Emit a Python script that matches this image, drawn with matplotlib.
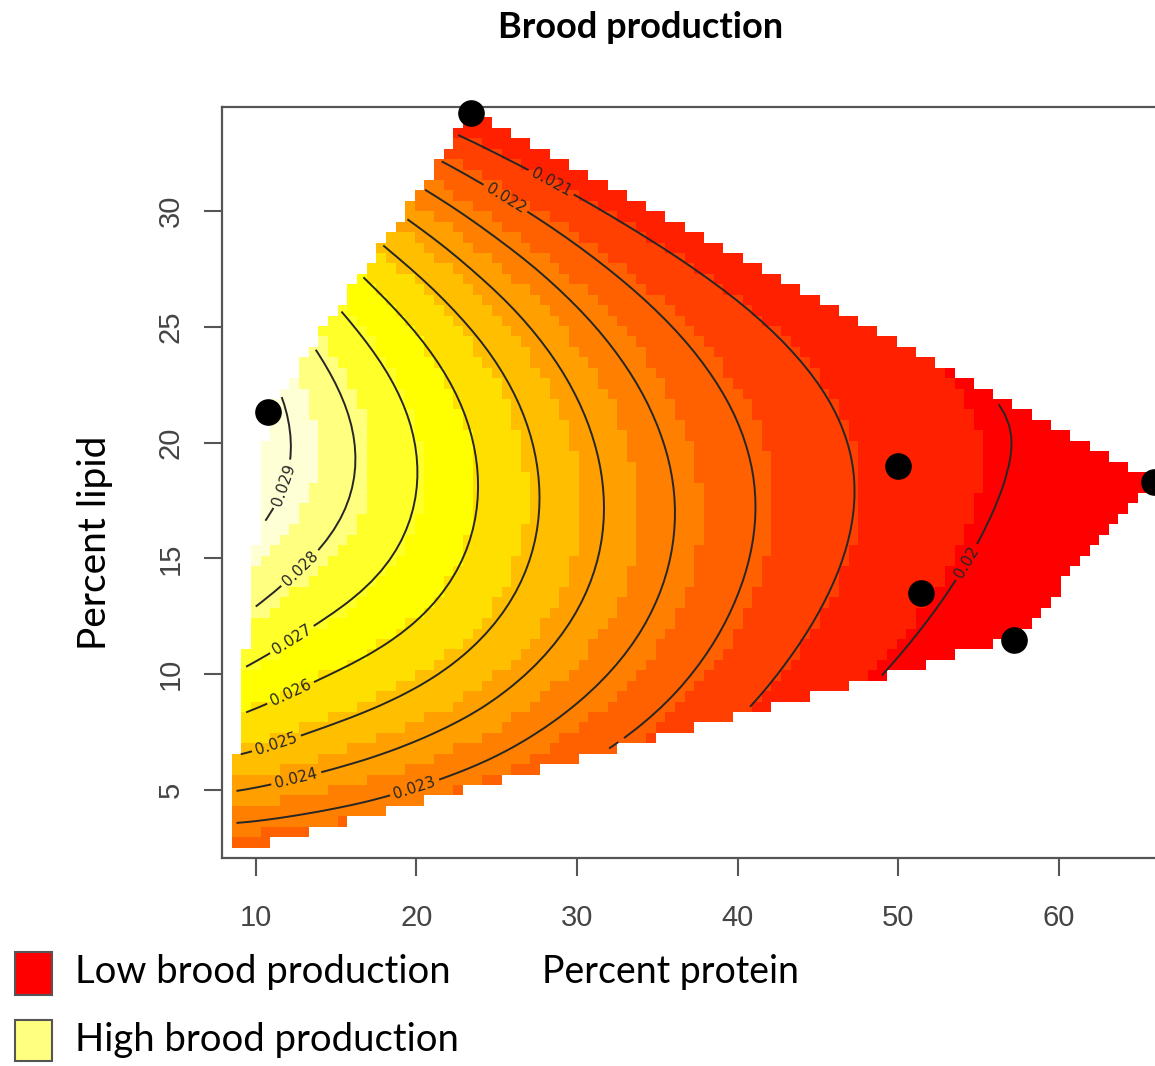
import numpy as np
import matplotlib
matplotlib.use('Agg')
import matplotlib.pyplot as plt
from matplotlib.colors import ListedColormap, BoundaryNorm
from matplotlib.path import Path
from matplotlib.patches import Rectangle

# diets (percent protein, percent lipid)
pt_protein = [23.4, 10.75, 50.0, 65.9, 51.4, 57.2]
pt_lipid = [34.2, 21.3, 19.0, 18.3, 13.5, 11.5]

# outline of the predicted region
hull_protein = [8.2, 10.75, 23.4, 65.9, 57.2]
hull_lipid = [2.2, 21.3, 34.2, 18.3, 11.5]

c_level = ([0.029] * 3 + [0.028] * 5 + [0.027] * 7 + [0.026] * 8 + [0.025] * 9
           + [0.024] * 11 + [0.023] * 12 + [0.022] * 12 + [0.021] * 11 + [0.020] * 7
           + [0.02095, 0.0201])
c_protein = [12.3, 13.2, 13.1,
             14.1, 16.4, 16.8, 14.2, 12.3,
             15.5, 18.4, 20.0, 20.4, 18.2, 14.1, 11.8,
             16.7, 20.2, 22.6, 23.5, 23.8, 22.7, 14.1, 11.9,
             18.2, 21.1, 24.6, 26.9, 27.5, 26.3, 20.8, 13.2, 11.2,
             19.1, 23.5, 27.5, 30.4, 31.5, 29.9, 27.4, 24.1, 14.8, 12.6, 9.1,
             20.4, 24.6, 29.1, 32.4, 34.6, 36.0, 35.8, 34.1, 31.3, 27.2, 21.6, 16.3,
             21.8, 25.6, 27.8, 31.3, 34.6, 38.0, 40.2, 41.1, 40.8, 39.1, 36.3, 31.0,
             23.3, 28.6, 31.1, 35.8, 40.2, 43.8, 47.6, 47.2, 45.2, 42.4, 40.2,
             54.1, 54.7, 56.4, 55.6, 53.7, 51.9, 49.4,
             47.8, 55.4]
c_lipid = [21.5, 18.7, 18.1,
           23.5, 21.2, 18.9, 15.9, 14.9,
           25.1, 23.0, 20.9, 18.2, 14.5, 12.8, 12.0,
           26.7, 24.6, 22.3, 19.6, 18.3, 14.5, 10.3, 9.6,
           28.0, 26.6, 24.3, 21.8, 18.5, 13.4, 9.5, 7.7, 7.2,
           29.5, 26.9, 24.3, 21.2, 18.5, 12.6, 10.2, 8.2, 6.1, 5.3, 4.4,
           30.7, 28.4, 26.1, 23.5, 20.4, 18.8, 14.5, 11.6, 9.5, 7.6, 6.0, 4.0,
           32.3, 30.6, 29.4, 27.7, 25.8, 22.7, 19.6, 18.1, 14.5, 11.3, 9.0, 6.7,
           33.5, 31.5, 30.3, 28.4, 26.4, 23.6, 18.8, 15.9, 13.1, 10.8, 8.5,
           22.7, 22.0, 18.8, 16.2, 13.8, 12.3, 10.3,
           18.8, 18.8]

levels = [0.020, 0.021, 0.022, 0.023, 0.024, 0.025, 0.026, 0.027, 0.028, 0.029]
label_protein = [54.1, 28.6, 25.6, 19.9, 12.6, 11.2, 11.9, 11.8, 12.3, 11.7]
label_lipid = [14.9, 31.5, 30.6, 5.1, 5.3, 7.2, 9.6, 12.0, 14.9, 18.2]

# colour scale: 12 heat colours between these two values
z_low, z_high = 0.01925, 0.02945
heat = ["#FF0000", "#FF2000", "#FF4000", "#FF6000", "#FF8000", "#FF9F00",
        "#FFBF00", "#FFDF00", "#FFFF00", "#FFFF2A", "#FFFF80", "#FFFFD5"]


def basis(p, l):
    u = (np.asarray(p, float) - 35) / 30
    v = (np.asarray(l, float) - 18) / 16
    return np.stack([np.ones_like(u), u, v, u * u, u * v, v * v,
                     u ** 3, u * u * v, u * v * v, v ** 3], axis=-1)


def tps(r):
    with np.errstate(divide='ignore', invalid='ignore'):
        out = r * r * np.log(r)
    return np.nan_to_num(out)


# smooth cubic trend plus a stiff thin-plate spline on what is left over
zz = np.array(c_level) * 1000
coef = np.linalg.lstsq(basis(c_protein, c_lipid), zz, rcond=None)[0]
resid = zz - basis(c_protein, c_lipid) @ coef

pts = np.c_[c_protein, c_lipid] / 10.0
n = len(zz)
lam = 2.0
A = np.zeros((n + 3, n + 3))
A[:n, :n] = tps(np.linalg.norm(pts[:, None] - pts[None], axis=-1)) + lam * np.eye(n)
A[:n, n] = 1
A[:n, n + 1:] = pts
A[n, :n] = 1
A[n + 1:, :n] = pts.T
sol = np.linalg.solve(A, np.r_[resid, 0, 0, 0])

xs = np.arange(8.2, 66.0, 0.6)
ys = np.arange(2.3, 34.3, 0.45)
P, L = np.meshgrid(xs, ys)
g = np.c_[P.ravel(), L.ravel()] / 10.0
fix = (tps(np.linalg.norm(g[:, None] - pts[None], axis=-1)) @ sol[:n]
       + sol[n] + g @ sol[n + 1:]).reshape(P.shape)
Z = (basis(P, L) @ coef + fix) / 1000
inside = Path(list(zip(hull_protein, hull_lipid))).contains_points(
    np.c_[P.ravel(), L.ravel()]).reshape(P.shape)
Zm = np.ma.masked_where(~inside, Z)

fig = plt.figure(figsize=(11.55, 10.66), dpi=100)
ax = fig.add_axes([222 / 1155, 208 / 1066, 935 / 1155, 751 / 1066])

xe = np.r_[xs - 0.3, xs[-1] + 0.3]
ye = np.r_[ys - 0.225, ys[-1] + 0.225]
breaks = np.linspace(z_low, z_high, 13)
ax.pcolormesh(xe, ye, Zm, cmap=ListedColormap(heat),
              norm=BoundaryNorm(breaks, 12, clip=True))

cs = ax.contour(P, L, Zm, levels=levels, colors='#262626', linewidths=1.4)
ax.clabel(cs, fmt=lambda v: ('%.3f' % v).rstrip('0'), fontsize=11, inline=True,
          inline_spacing=4, manual=list(zip(label_protein, label_lipid)))

ax.scatter(pt_protein, pt_lipid, s=330, color='black', zorder=5, clip_on=False)

ax.set_xlim(xe[0], xe[-1])
ax.set_ylim(ye[0], ye[-1])
ax.set_xticks([10, 20, 30, 40, 50, 60])
ax.set_yticks([5, 10, 15, 20, 25, 30])
for s in ax.spines.values():
    s.set_color('#555555')
    s.set_linewidth(1.6)
ax.tick_params(axis='x', length=13, width=1.5, color='#555555', labelsize=21,
               labelcolor='#444444', pad=20)
ax.tick_params(axis='y', length=13, width=1.5, color='#555555', labelsize=21,
               labelcolor='#444444', pad=14)
for t in ax.get_xticklabels() + ax.get_yticklabels():
    t.set_family('Liberation Sans')
plt.setp(ax.get_yticklabels(), rotation=90, va='center')

fig.text(641 / 1155, 1 - 27 / 1066, 'Brood production', ha='center', va='center',
         fontsize=26, fontweight='bold', family='Lato')
fig.text(671 / 1155, 1 - 972 / 1066, 'Percent protein', ha='center', va='center',
         fontsize=27, family='Lato')
fig.text(95 / 1155, 1 - 543 / 1066, 'Percent lipid', ha='center', va='center',
         fontsize=28, family='Lato', rotation=90)

fig.add_artist(Rectangle((15 / 1155, 1 - 995 / 1066), 37 / 1155, 43 / 1066,
                         transform=fig.transFigure, facecolor='#FF0000',
                         edgecolor='#555555', lw=1.5))
fig.add_artist(Rectangle((15 / 1155, 1 - 1061 / 1066), 37 / 1155, 41 / 1066,
                         transform=fig.transFigure, facecolor='#FFFF80',
                         edgecolor='#555555', lw=1.5))
fig.text(75 / 1155, 1 - 972 / 1066, 'Low brood production', ha='left', va='center',
         fontsize=27.5, family='Lato')
fig.text(75 / 1155, 1 - 1040 / 1066, 'High brood production', ha='left', va='center',
         fontsize=27.5, family='Lato')

fig.savefig('out.png', dpi=100)
